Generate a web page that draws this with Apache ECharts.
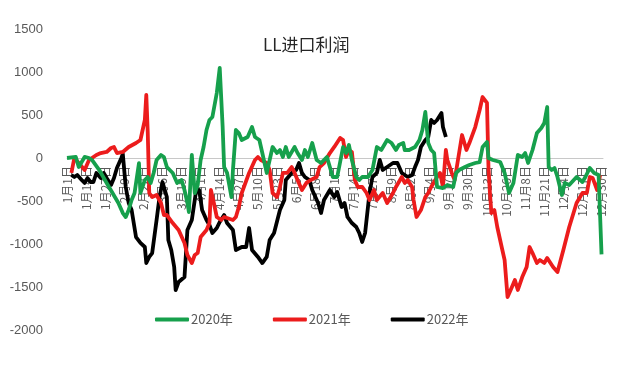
<!DOCTYPE html>
<html><head><meta charset="utf-8">
<script src="https://cdn.jsdelivr.net/npm/echarts@6/dist/echarts.min.js"></script>
<style>html,body{margin:0;padding:0;background:#fff}#c{width:640px;height:380px}</style>
</head><body><div id="c"></div>
<script>
// Categories: every calendar day (leap-year calendar, 366 days), labels like "1月1日"
const monthDays = [31,29,31,30,31,30,31,31,30,31,30,31];
const categories = [];
monthDays.forEach((n, m) => { for (let d = 1; d <= n; d++) categories.push((m + 1) + '月' + d + '日'); });

const seriesNames = ['2020年', '2021年', '2022年'];

// 2020年 (green): day index / value
const days2020 = [0,6,8,12,15,17,22,27,31,35,38,40,42,44,46,49,50,53,55,57,59,61,64,66,68,72,75,78,80,82,83,85,87,89,91,93,95,97,99,102,104,106,107,109,112,113,115,117,119,123,126,128,131,133,136,138,140,143,145,147,149,151,155,157,160,162,164,167,170,173,177,179,181,184,188,190,192,194,197,199,201,205,208,211,214,218,221,224,226,229,230,233,237,240,242,244,246,248,250,252,256,259,263,265,267,271,274,278,281,283,286,287,290,295,298,301,304,307,310,312,314,317,320,323,325,327,328,330,332,334,337,339,342,347,351,353,356,359,362,364];
const vals2020 = [0,12,-105,12,0,-23,-140,-290,-407,-523,-640,-686,-605,-488,-407,-60,-407,-256,-221,-290,-174,-23,35,12,-105,-174,-290,-256,-372,-523,-628,35,-407,-314,-23,128,326,442,477,756,1047,360,-105,-174,-454,-140,326,291,209,244,360,244,209,58,-174,-23,128,58,93,12,128,12,128,58,-23,93,12,174,-23,-58,12,-105,-221,-221,128,58,151,-23,-221,-256,-221,-221,-140,128,93,209,174,93,151,174,93,93,128,209,326,535,174,93,58,-337,-349,-314,-337,-174,-140,-105,-81,-58,-47,128,186,0,-23,-47,-174,-407,-290,35,12,58,-58,93,291,349,407,593,-105,-140,-116,-221,-430,-290,-314,-221,-279,-221,-116,-174,-198,-1120];

// 2021年 (red)
const days2021 = [3,5,8,12,15,20,23,27,30,32,34,38,42,47,50,53,54,55,56,58,61,64,66,68,72,76,80,82,85,87,89,91,95,97,98,100,102,105,107,109,113,115,117,119,124,128,130,132,136,138,140,143,145,147,150,153,155,157,160,163,166,170,172,175,179,182,186,188,190,192,194,196,198,201,204,206,209,211,215,218,222,224,228,230,232,235,236,238,241,244,246,248,252,254,256,258,259,262,264,267,269,272,274,278,281,283,286,287,288,289,291,293,296,298,300,303,305,307,310,313,315,317,320,322,325,327,331,334,338,342,347,351,354,356,358,361,363];
const vals2021 = [-174,0,-58,-140,-23,35,58,70,116,128,58,70,128,174,209,442,733,291,-407,-454,-430,-523,-663,-663,-756,-837,-988,-1128,-1221,-1128,-1105,-919,-837,-756,-372,-523,-686,-721,-686,-698,-721,-686,-570,-407,-174,-23,12,-23,-58,-140,-407,-454,-337,-174,-174,-105,-174,-256,-372,-290,-256,-221,-105,-58,58,128,233,209,12,93,70,-256,-337,-337,-407,-488,-372,-488,-407,-523,-407,-337,-221,-290,-256,-337,-488,-686,-605,-454,-407,-337,-221,-174,-337,93,-23,-174,-256,58,267,93,174,360,558,709,640,-105,-407,-640,-605,-802,-1035,-1186,-1617,-1500,-1419,-1535,-1384,-1268,-1035,-1105,-1221,-1186,-1221,-1163,-1268,-1326,-1070,-802,-523,-407,-407,-221,-233,-372,-198];

// 2022年 (black)
const days2022 = [3,5,7,10,12,14,16,18,20,23,25,27,30,32,34,37,38,40,42,44,47,50,53,54,56,58,61,63,65,68,69,71,73,74,76,80,82,85,88,90,92,95,97,99,102,104,107,109,113,115,119,122,124,126,130,133,136,138,141,145,148,149,153,156,158,160,162,165,167,171,173,175,179,182,184,187,189,191,194,197,199,201,203,206,208,211,213,215,218,222,225,228,230,232,235,237,239,241,244,246,248,250,252,255,256,258];
const vals2022 = [-198,-221,-198,-256,-290,-233,-279,-279,-174,-233,-174,-233,-314,-233,-116,0,47,-337,-523,-605,-919,-988,-1035,-1221,-1151,-1105,-721,-454,-279,-454,-954,-1070,-1268,-1535,-1442,-1384,-837,-721,-372,-372,-605,-721,-779,-872,-814,-744,-663,-756,-837,-1070,-1035,-1035,-814,-1070,-1151,-1221,-1151,-954,-872,-605,-488,-256,-174,-140,-58,-174,-221,-256,-372,-523,-640,-488,-372,-454,-395,-570,-523,-686,-756,-802,-872,-977,-872,-407,-221,-174,-23,-140,-105,-58,-58,-174,-198,-221,-198,-105,-23,128,209,244,442,407,442,523,360,244];

const yTicks = { min: -2000, max: 1500, step: 500 };
const colors = ['#16a04c', '#ec1c1c', '#000000'];

function zip(d, v) { return d.map((x, i) => [x, v[i]]); }
const seriesData = [zip(days2020, vals2020), zip(days2021, vals2021), zip(days2022, vals2022)];

const H = 380, gridBottom = 50;
const chart = echarts.init(document.getElementById('c'), null, { renderer: 'canvas' });
const option = {
  backgroundColor: '#ffffff',
  animation: false,
  title: {
    text: 'LL进口利润', left: 258, top: 31,
    textStyle: { fontFamily: 'Noto Sans CJK SC', fontSize: 17, fontWeight: 'normal', color: '#262626' }
  },
  legend: {
    data: seriesNames, left: 150, top: 308, itemWidth: 34, itemHeight: 4, itemGap: 40,
    icon: 'roundRect',
    textStyle: { fontFamily: 'Noto Sans CJK SC', fontSize: 13, color: '#595959', padding: [0, 0, 0, -3] }
  },
  grid: { left: 67, right: 37, top: 29, bottom: gridBottom, outerBoundsMode: 'none', containLabel: false },
  xAxis: {
    type: 'category', data: categories, boundaryGap: false,
    axisLine: { onZero: false, lineStyle: { color: '#c8c8c8', width: 1 } },
    axisTick: { show: false },
    offset: 0,
    axisLabel: { interval: 12, rotate: 90, margin: 8, color: '#595959', fontSize: 12, fontFamily: 'Noto Sans CJK SC' },
    splitLine: { show: false }
  },
  yAxis: {
    type: 'value', min: yTicks.min, max: yTicks.max, interval: yTicks.step,
    axisLine: { show: false }, axisTick: { show: false }, splitLine: { show: false },
    axisLabel: { margin: 24, color: '#595959', fontSize: 13, fontFamily: 'Liberation Sans', formatter: v => String(v) }
  },
  series: seriesNames.map((n, i) => ({
    name: n, type: 'line', data: seriesData[i], showSymbol: false, symbol: 'none',
    itemStyle: { color: colors[i] },
    lineStyle: { color: colors[i], width: 3.8, join: 'round' },
    z: 3 - i
  }))
};
chart.setOption(option);
// place the category axis on the zero line
const zeroY = chart.convertToPixel({ yAxisIndex: 0 }, 0);
chart.setOption({ xAxis: { offset: -((H - gridBottom) - zeroY) } });
</script></body></html>
